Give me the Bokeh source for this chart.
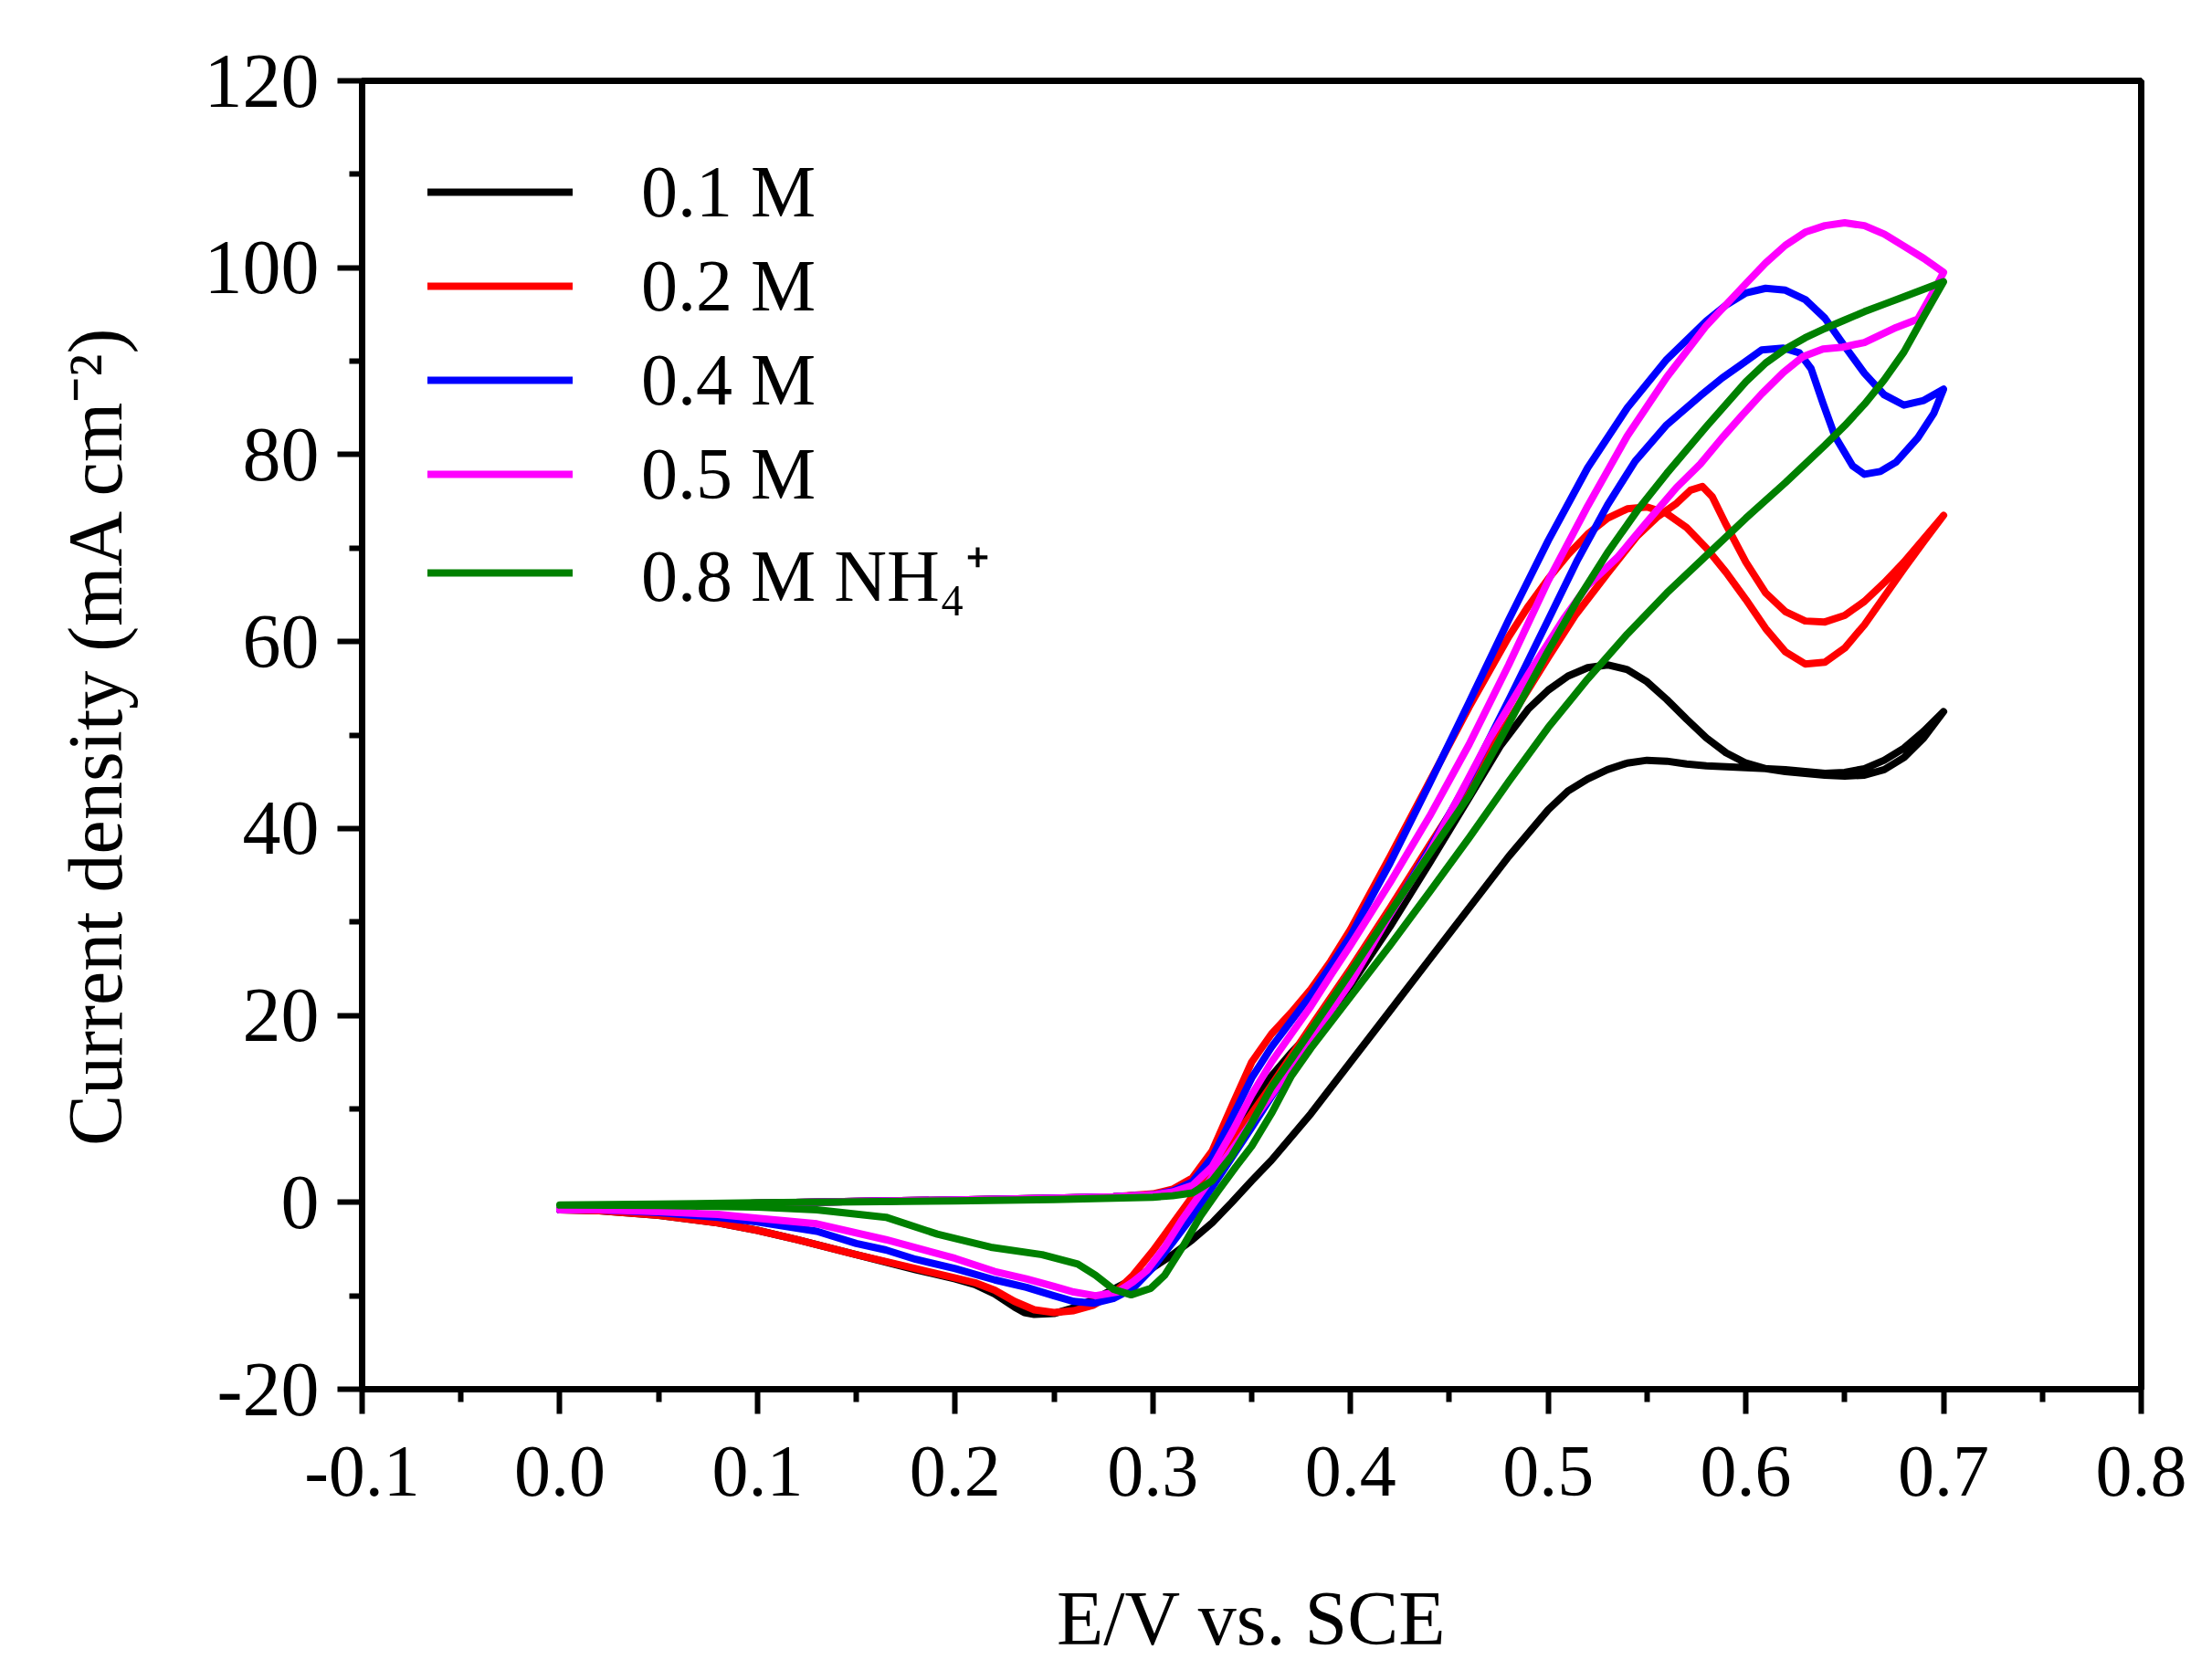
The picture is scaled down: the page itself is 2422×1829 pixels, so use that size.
from bokeh.embed import file_html
from bokeh.models import FixedTicker, Legend, LegendItem, NumeralTickFormatter, Range1d
from bokeh.plotting import figure
from bokeh.resources import INLINE

# potential (V vs SCE) and current density (mA cm-2), one closed CV loop per series
e_01 = [0.0, 0.05, 0.10, 0.15, 0.20, 0.25, 0.28, 0.30, 0.31, 0.32, 0.33, 0.34, 0.35, 0.36, 0.37, 0.38, 0.39, 0.40,
        0.42, 0.44, 0.46, 0.476, 0.49, 0.50, 0.51, 0.52, 0.53, 0.54, 0.55, 0.56, 0.57, 0.58, 0.59, 0.60, 0.61, 0.62,
        0.63, 0.64, 0.65, 0.66, 0.67, 0.68, 0.69, 0.70,
        0.69, 0.68, 0.67, 0.66, 0.65, 0.64, 0.63, 0.62, 0.60, 0.58, 0.57, 0.56, 0.55, 0.54, 0.53, 0.52, 0.51, 0.50,
        0.48, 0.46, 0.44, 0.42, 0.40, 0.38, 0.36, 0.35, 0.34, 0.33, 0.32, 0.31, 0.30, 0.29, 0.28, 0.27, 0.26, 0.25,
        0.24, 0.235, 0.23, 0.22, 0.21, 0.20, 0.18, 0.15, 0.12, 0.10, 0.08, 0.05, 0.02, 0.0]
j_01 = [-0.8, -0.4, -0.1, 0.1, 0.25, 0.45, 0.6, 0.8, 1.0, 1.5, 3.5, 7.0, 10.5, 13.5, 16.0, 18.2, 20.5, 23.2,
        29.5, 36.3, 43.3, 48.9, 52.8, 54.8, 56.3, 57.2, 57.5, 57.0, 55.7, 53.8, 51.7, 49.7, 48.1, 47.0, 46.4, 46.1,
        45.9, 45.7, 45.6, 45.7, 46.3, 47.6, 49.7, 52.5,
        50.4, 48.6, 47.3, 46.4, 46.0, 45.9, 46.1, 46.3, 46.5, 46.7, 46.9, 47.2, 47.3, 47.0, 46.3, 45.3, 44.0, 42.0,
        37.0, 31.5, 26.0, 20.5, 15.0, 9.5, 4.5, 2.3, 0.0, -2.2, -4.0, -5.6, -7.0, -8.2, -9.3, -10.4, -11.3, -11.9,
        -12.0, -11.8, -11.2, -9.8, -8.8, -8.2, -7.2, -5.6, -4.0, -3.0, -2.2, -1.4, -0.9, -0.8]

e_02 = [0.0, 0.05, 0.10, 0.15, 0.20, 0.25, 0.28, 0.30, 0.31, 0.32, 0.33, 0.34, 0.35, 0.36, 0.37, 0.38, 0.39, 0.40,
        0.42, 0.44, 0.46, 0.48, 0.49, 0.50, 0.51, 0.52, 0.53, 0.54, 0.55, 0.56, 0.57, 0.58, 0.59, 0.60, 0.61, 0.62,
        0.63, 0.64, 0.65, 0.66, 0.67, 0.68, 0.69, 0.70,
        0.69, 0.68, 0.67, 0.66, 0.65, 0.64, 0.63, 0.62, 0.61, 0.60, 0.59, 0.583, 0.578, 0.572, 0.565, 0.555, 0.545,
        0.53, 0.514, 0.50, 0.48, 0.46, 0.44, 0.42, 0.40, 0.38, 0.36, 0.35, 0.34, 0.33, 0.32, 0.31, 0.30, 0.29, 0.28,
        0.27, 0.26, 0.25, 0.24, 0.23, 0.22, 0.21, 0.20, 0.18, 0.15, 0.12, 0.10, 0.08, 0.05, 0.02, 0.0]
j_02 = [-0.8, -0.4, -0.1, 0.1, 0.25, 0.45, 0.6, 0.9, 1.4, 2.6, 5.5, 10.3, 15.0, 18.0, 20.3, 22.8, 25.8, 29.2,
        37.0, 45.0, 53.0, 60.5, 63.8, 66.7, 69.3, 71.5, 73.2, 74.2, 74.4, 73.7, 72.2, 70.0, 67.4, 64.5, 61.4, 58.9,
        57.6, 57.8, 59.3, 61.8, 64.8, 67.8, 70.7, 73.5,
        71.0, 68.5, 66.3, 64.3, 62.8, 62.1, 62.2, 63.2, 65.2, 68.5, 72.5, 75.5, 76.6, 76.2, 74.8, 73.3, 71.3,
        67.3, 62.9, 58.3, 51.5, 44.8, 38.2, 31.5, 25.0, 18.8, 12.5, 9.5, 6.5, 3.5, 0.6, -2.3, -5.2, -7.8, -9.8,
        -11.0, -11.6, -11.8, -11.5, -10.6, -9.4, -8.6, -8.1, -7.1, -5.6, -4.0, -3.0, -2.2, -1.4, -0.9, -0.8]

e_04 = [0.0, 0.05, 0.10, 0.15, 0.20, 0.25, 0.28, 0.30, 0.31, 0.32, 0.33, 0.34, 0.35, 0.36, 0.37, 0.38, 0.39, 0.40,
        0.42, 0.44, 0.46, 0.48, 0.50, 0.52, 0.54, 0.56, 0.58, 0.59, 0.60, 0.61, 0.62, 0.63, 0.64, 0.65, 0.66, 0.67,
        0.68, 0.69, 0.70,
        0.695, 0.687, 0.676, 0.668, 0.66, 0.654, 0.645, 0.639, 0.633, 0.627, 0.619, 0.608, 0.598, 0.588, 0.577,
        0.56, 0.544, 0.53, 0.515, 0.50, 0.48, 0.46, 0.44, 0.42, 0.40, 0.38, 0.36, 0.35, 0.34, 0.33, 0.32, 0.31,
        0.30, 0.29, 0.28, 0.27, 0.26, 0.25, 0.236, 0.22, 0.20, 0.18, 0.165, 0.15, 0.13, 0.10, 0.08, 0.05, 0.02, 0.0]
j_04 = [-0.8, -0.4, -0.1, 0.1, 0.25, 0.45, 0.6, 0.8, 1.2, 2.2, 4.8, 9.0, 13.3, 16.6, 19.4, 22.2, 25.3, 28.5,
        36.3, 44.8, 53.5, 62.3, 70.8, 78.6, 85.0, 90.2, 94.3, 96.0, 97.3, 97.8, 97.6, 96.6, 94.6, 91.6, 88.7, 86.4,
        85.3, 85.8, 87.0,
        84.4, 81.8, 79.2, 78.2, 77.9, 78.8, 82.0, 85.5, 89.2, 90.9, 91.4, 91.2, 89.7, 88.2, 86.3,
        83.2, 79.3, 74.6, 68.8, 62.3, 53.7, 45.3, 37.8, 30.8, 24.2, 17.7, 11.3, 8.0, 4.8, 1.6, -1.5, -4.3,
        -7.0, -9.2, -10.3, -10.8, -10.6, -10.0, -9.1, -8.3, -7.1, -6.1, -5.1, -4.4, -3.1, -2.1, -1.6, -1.1, -0.8, -0.8]

e_05 = [0.0, 0.05, 0.10, 0.15, 0.20, 0.25, 0.28, 0.30, 0.31, 0.32, 0.33, 0.34, 0.35, 0.36, 0.37, 0.38, 0.39, 0.40,
        0.42, 0.44, 0.46, 0.48, 0.50, 0.52, 0.54, 0.56, 0.58, 0.60, 0.61, 0.62, 0.63, 0.64, 0.65, 0.66, 0.67, 0.68,
        0.69, 0.70,
        0.695, 0.687, 0.676, 0.66, 0.649, 0.639, 0.629, 0.619, 0.608, 0.598, 0.588, 0.577, 0.565, 0.55, 0.535,
        0.52, 0.508, 0.49, 0.47, 0.455, 0.44, 0.42, 0.40, 0.38, 0.36, 0.35, 0.342, 0.333, 0.324, 0.315, 0.306,
        0.297, 0.29, 0.282, 0.271, 0.26, 0.25, 0.236, 0.22, 0.20, 0.165, 0.13, 0.10, 0.08, 0.05, 0.02, 0.0]
j_05 = [-0.8, -0.4, -0.1, 0.1, 0.25, 0.45, 0.6, 0.8, 1.1, 1.8, 3.8, 7.5, 11.5, 15.0, 18.0, 21.0, 24.3, 27.5,
        34.2, 41.3, 49.0, 57.5, 66.5, 74.5, 82.0, 88.3, 93.8, 98.3, 100.5, 102.4, 103.8, 104.5, 104.8, 104.5, 103.6, 102.3,
        101.0, 99.5,
        97.5, 94.5, 93.6, 92.0, 91.5, 91.3, 90.5, 88.8, 86.5, 84.2, 81.8, 79.0, 76.5, 72.8, 69.0,
        66.0, 62.5, 56.5, 49.5, 43.5, 37.5, 30.8, 23.5, 17.5, 11.5, 8.6, 6.2, 3.6, 0.9, -1.8, -4.8,
        -7.3, -8.5, -9.6, -10.0, -9.6, -9.0, -8.2, -7.4, -6.0, -4.0, -2.3, -1.7, -1.3, -1.0, -0.8, -0.8]

e_08 = [0.0, 0.05, 0.10, 0.15, 0.20, 0.25, 0.28, 0.30, 0.31, 0.32, 0.33, 0.34, 0.35, 0.36, 0.37, 0.38, 0.39, 0.40,
        0.42, 0.44, 0.46, 0.48, 0.50, 0.515, 0.53, 0.545, 0.56, 0.58, 0.60, 0.61, 0.62, 0.63, 0.64, 0.65, 0.66, 0.67,
        0.68, 0.69, 0.70,
        0.69, 0.68, 0.67, 0.66, 0.65, 0.64, 0.62, 0.60, 0.58, 0.56, 0.54, 0.52, 0.50, 0.48, 0.46, 0.44, 0.42,
        0.40, 0.38, 0.37, 0.36, 0.35, 0.342, 0.333, 0.324, 0.315, 0.306, 0.299, 0.289, 0.28, 0.271, 0.262, 0.244,
        0.218, 0.191, 0.165, 0.13, 0.10, 0.05, 0.0]
j_08 = [-0.3, -0.2, -0.05, 0.05, 0.15, 0.3, 0.45, 0.55, 0.7, 1.0, 2.3, 5.0, 8.5, 12.3, 15.3, 18.4, 21.5, 24.6,
        31.0, 37.3, 43.5, 51.2, 59.0, 64.5, 69.5, 74.0, 78.0, 83.0, 87.8, 89.8, 91.3, 92.5, 93.5, 94.4, 95.3, 96.1,
        96.9, 97.7, 98.5,
        94.8, 91.0, 88.0, 85.4, 83.1, 81.0, 77.0, 73.2, 69.2, 65.2, 60.8, 56.0, 50.8, 45.0, 39.0, 33.2, 27.5,
        22.0, 16.5, 13.5, 9.5, 6.0, 3.8, 1.2, -1.5, -4.8, -7.8, -9.2, -9.9, -9.3, -7.8, -6.6, -5.6,
        -4.8, -3.4, -1.6, -0.8, -0.5, -0.35, -0.3]

series_labels = ["0.1 M", "0.2 M", "0.4 M", "0.5 M", "0.8 M NH\u2084\u207a"]
series_colors = ["black", "red", "blue", "magenta", "green"]

x_ticks = [-0.1, 0.0, 0.1, 0.2, 0.3, 0.4, 0.5, 0.6, 0.7, 0.8]
x_minor = [-0.05, 0.05, 0.15, 0.25, 0.35, 0.45, 0.55, 0.65, 0.75]
y_ticks = [-20, 0, 20, 40, 60, 80, 100, 120]
y_minor = [-10, 10, 30, 50, 70, 90, 110]

FONT = "Liberation Serif"

p = figure(
    frame_width=1948,
    frame_height=1433,
    min_border_left=396,
    min_border_top=88,
    min_border_right=54,
    min_border_bottom=270,
    x_range=Range1d(-0.1, 0.8),
    y_range=Range1d(-20, 120),
    x_axis_label="E/V vs. SCE",
    y_axis_label="Current density (mA cm\u207b\u00b2)",
    output_backend="svg",
    toolbar_location=None,
)

p.xgrid.visible = False
p.ygrid.visible = False
p.outline_line_color = "black"
p.outline_line_width = 7

p.xaxis.ticker = FixedTicker(ticks=x_ticks, minor_ticks=x_minor)
p.xaxis.formatter = NumeralTickFormatter(format="0.0")
p.yaxis.ticker = FixedTicker(ticks=y_ticks, minor_ticks=y_minor)
p.yaxis.formatter = NumeralTickFormatter(format="0")

for ax in (p.xaxis, p.yaxis):
    ax.axis_line_width = 7
    ax.major_tick_line_width = 6
    ax.minor_tick_line_width = 6
    ax.major_tick_in = 0
    ax.minor_tick_in = 0
    ax.major_tick_out = 27
    ax.minor_tick_out = 14
    ax.major_label_text_font = FONT
    ax.major_label_text_color = "black"
    ax.axis_label_text_font = FONT
    ax.axis_label_text_font_size = "84px"
    ax.axis_label_text_font_style = "normal"
    ax.axis_label_text_color = "black"

p.xaxis.major_label_text_font_size = "80px"
p.yaxis.major_label_text_font_size = "84px"
p.xaxis.major_label_standoff = 36
p.xaxis.axis_label_standoff = 85
p.yaxis.major_label_standoff = 20
p.yaxis.axis_label_standoff = 70

items = []
loops = [(e_01, j_01), (e_02, j_02), (e_04, j_04), (e_05, j_05), (e_08, j_08)]
for (e, j), lab, col in zip(loops, series_labels, series_colors):
    r = p.line(e, j, line_color=col, line_width=8, line_join="round", line_cap="round")
    items.append(LegendItem(label=lab, renderers=[r]))

legend = Legend(
    items=items,
    location="top_left",
    margin=0,
    padding=72,
    spacing=3,
    glyph_width=159,
    glyph_height=100,
    label_height=100,
    label_standoff=75,
    label_text_font=FONT,
    label_text_font_size="80px",
    label_text_color="black",
    background_fill_alpha=0,
    border_line_alpha=0,
)
p.add_layout(legend)

open("out.html", "w").write(file_html(p, INLINE))
